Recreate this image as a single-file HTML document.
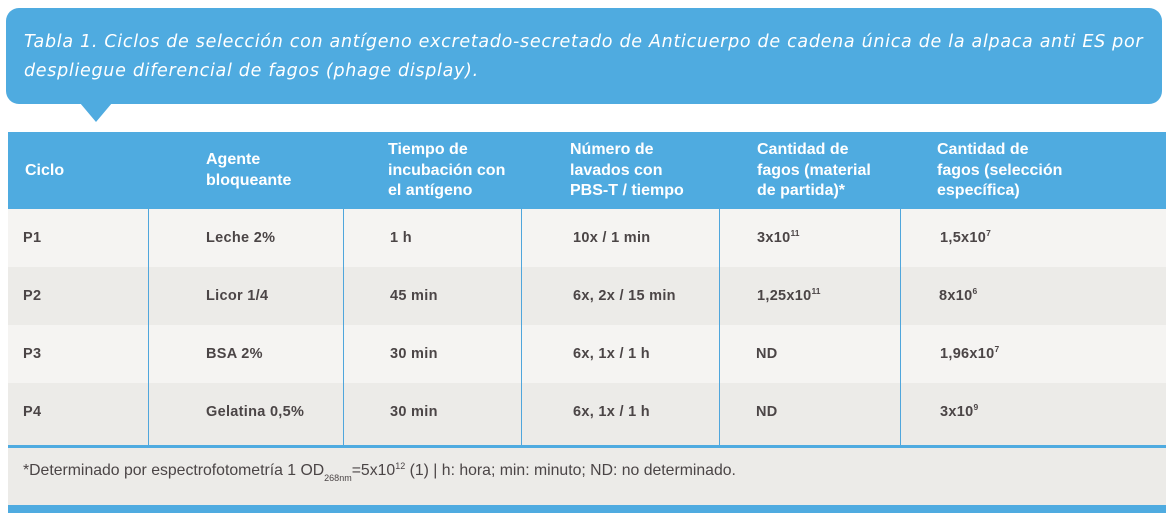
<!DOCTYPE html>
<html><head><meta charset="utf-8"><style>
*{margin:0;padding:0;box-sizing:border-box}
html,body{width:1166px;height:524px;background:#fff;overflow:hidden}
body{position:relative;font-family:"Liberation Sans",sans-serif}
.cap{position:absolute;left:6px;top:8px;width:1156px;height:96px;background:#4fabe0;border-radius:13px}
.tri{position:absolute;left:80px;top:103px;width:0;height:0;border-left:16px solid transparent;border-right:16px solid transparent;border-top:19px solid #4fabe0}
.capt{position:absolute;left:24px;top:28px;font-family:"DejaVu Sans",sans-serif;font-style:italic;font-size:17.5px;letter-spacing:0.7px;color:#fff;line-height:29px;white-space:nowrap}
.hdr{position:absolute;left:8px;top:132px;width:1158px;height:77px;background:#4fabe0}
.row{position:absolute;left:8px;width:1158px;height:58px}
.r1{top:209px;background:#f5f4f2}
.r2{top:267px;background:#ecebe8}
.r3{top:325px;background:#f5f4f2}
.r4{top:383px;background:#ecebe8;height:62px}
.vl{position:absolute;top:209px;height:236px;width:1px;background:#4fa6dc}
.bl1{position:absolute;left:8px;top:445px;width:1158px;height:3px;background:#4fabe0}
.foot{position:absolute;left:8px;top:448px;width:1158px;height:57px;background:#ecebe8}
.bl2{position:absolute;left:8px;top:505px;width:1158px;height:8px;background:#4fabe0}
.h{position:absolute;color:#fff;font-weight:bold;font-size:16px;line-height:20.5px;white-space:nowrap}
.c{position:absolute;color:#4b4546;font-weight:bold;font-size:14.5px;letter-spacing:0.3px;white-space:nowrap;line-height:18px}
.c sup{font-size:8.5px;vertical-align:baseline;position:relative;top:-6px;letter-spacing:0;line-height:0}
.ft{position:absolute;left:23px;top:462px;color:#4b4546;font-size:15.8px;white-space:nowrap;line-height:18px}
.ft sub{font-size:9px;vertical-align:baseline;position:relative;top:6px;line-height:0}
.ft sup{font-size:9px;vertical-align:baseline;position:relative;top:-6px;line-height:0}
</style></head><body>
<div class="cap"></div>
<div class="tri"></div>
<div class="capt">Tabla 1. Ciclos de selección con antígeno excretado-secretado de Anticuerpo de cadena única de la alpaca anti ES por<br>despliegue diferencial de fagos (phage display).</div>

<div class="hdr"></div>
<div class="h" style="left:25px;top:161px">Ciclo</div>
<div class="h" style="left:206px;top:150px">Agente<br>bloqueante</div>
<div class="h" style="left:388px;top:140px">Tiempo de<br>incubación con<br>el antígeno</div>
<div class="h" style="left:570px;top:140px">Número de<br>lavados con<br>PBS-T / tiempo</div>
<div class="h" style="left:757px;top:140px">Cantidad de<br>fagos (material<br>de partida)*</div>
<div class="h" style="left:937px;top:140px">Cantidad de<br>fagos (selección<br>específica)</div>

<div class="row r1"></div>
<div class="row r2"></div>
<div class="row r3"></div>
<div class="row r4"></div>
<div class="vl" style="left:148px"></div>
<div class="vl" style="left:343px"></div>
<div class="vl" style="left:521px"></div>
<div class="vl" style="left:719px"></div>
<div class="vl" style="left:900px"></div>
<div class="bl1"></div>
<div class="foot"></div>
<div class="bl2"></div>

<div class="c" style="left:23px;top:229px">P1</div>
<div class="c" style="left:206px;top:229px">Leche 2%</div>
<div class="c" style="left:390px;top:229px">1 h</div>
<div class="c" style="left:573px;top:229px">10x / 1 min</div>
<div class="c" style="left:757px;top:229px">3x10<sup>11</sup></div>
<div class="c" style="left:940px;top:229px">1,5x10<sup>7</sup></div>

<div class="c" style="left:23px;top:287px">P2</div>
<div class="c" style="left:206px;top:287px">Licor 1/4</div>
<div class="c" style="left:390px;top:287px">45 min</div>
<div class="c" style="left:573px;top:287px">6x, 2x / 15 min</div>
<div class="c" style="left:757px;top:287px">1,25x10<sup>11</sup></div>
<div class="c" style="left:939px;top:287px">8x10<sup>6</sup></div>

<div class="c" style="left:23px;top:345px">P3</div>
<div class="c" style="left:206px;top:345px">BSA 2%</div>
<div class="c" style="left:390px;top:345px">30 min</div>
<div class="c" style="left:573px;top:345px">6x, 1x / 1 h</div>
<div class="c" style="left:756px;top:345px">ND</div>
<div class="c" style="left:940px;top:345px">1,96x10<sup>7</sup></div>

<div class="c" style="left:23px;top:403px">P4</div>
<div class="c" style="left:206px;top:403px">Gelatina 0,5%</div>
<div class="c" style="left:390px;top:403px">30 min</div>
<div class="c" style="left:573px;top:403px">6x, 1x / 1 h</div>
<div class="c" style="left:756px;top:403px">ND</div>
<div class="c" style="left:940px;top:403px">3x10<sup>9</sup></div>

<div class="ft">*Determinado por espectrofotometría 1 OD<sub>268nm</sub>=5x10<sup>12</sup> (1) | h: hora; min: minuto; ND: no determinado.</div>
</body></html>
